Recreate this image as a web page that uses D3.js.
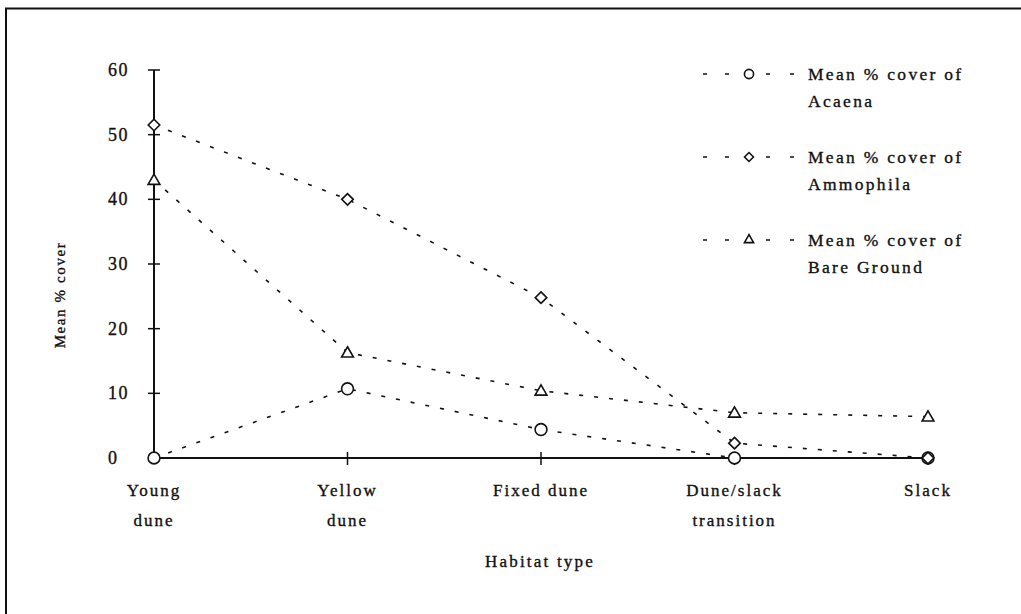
<!DOCTYPE html>
<html><head><meta charset="utf-8">
<script src="https://cdn.jsdelivr.net/npm/d3@7"></script>
<style>body{margin:0;background:#fff}svg{display:block}text{font-family:"Liberation Serif","Times New Roman",serif;fill:#111;stroke:#111;stroke-width:0.35px}</style>
</head><body>
<script>
const categories = [["Young","dune"],["Yellow","dune"],["Fixed dune"],["Dune/slack","transition"],["Slack"]];
const acaena = [0, 10.7, 4.4, 0, 0];
const ammophila = [51.5, 40, 24.8, 2.3, 0];
const bareGround = [43, 16.3, 10.4, 7, 6.4];
const yTicks = [0,10,20,30,40,50,60];
const seriesNames = [["Mean % cover of","Acaena"],["Mean % cover of","Ammophila"],["Mean % cover of","Bare Ground"]];

const W=1021,H=614;
const svg=d3.select("body").append("svg").attr("width",W).attr("height",H);
svg.append("path").attr("d","M6,614 L6,8.5 L1021,8.5").attr("fill","none").attr("stroke","#111").attr("stroke-width",2);

const x=d3.scalePoint().domain(d3.range(categories.length)).range([154,928]);
const y=d3.scaleLinear().domain([0,60]).range([458,70]);

const g=svg.append("g");
g.append("line").attr("x1",154).attr("x2",154).attr("y1",y(60)).attr("y2",y(0)).attr("stroke","#111").attr("stroke-width",2);
g.selectAll(".yt").data(yTicks).enter().append("line").attr("x1",148).attr("x2",160).attr("y1",d=>y(d)).attr("y2",d=>y(d)).attr("stroke","#111").attr("stroke-width",1.5);
g.selectAll(".yl").data(yTicks).enter().append("text").attr("x",108).attr("y",d=>y(d)+6).attr("text-anchor","start").attr("font-size",18).attr("letter-spacing",1.5).text(d=>d);
g.append("line").attr("x1",154).attr("x2",x(4)).attr("y1",y(0)).attr("y2",y(0)).attr("stroke","#111").attr("stroke-width",2);
g.selectAll(".xt").data(d3.range(1,categories.length)).enter().append("line").attr("x1",d=>x(d)).attr("x2",d=>x(d)).attr("y1",y(0)-6).attr("y2",y(0)+7).attr("stroke","#111").attr("stroke-width",1.5);
categories.forEach((c,i)=>{
  c.forEach((t,j)=>{
    g.append("text").attr("x",x(i)).attr("y",y(0)+38+j*30).attr("text-anchor","middle").attr("font-size",17).attr("letter-spacing",2).text(t);
  });
});
g.append("text").attr("x",540).attr("y",567).attr("text-anchor","middle").attr("font-size",17).attr("letter-spacing",2.2).text("Habitat type");
g.append("text").attr("transform","translate(65,295) rotate(-90)").attr("text-anchor","middle").attr("font-size",15).attr("letter-spacing",1.6).text("Mean % cover");

const shapes=[d3.symbolCircle,d3.symbolDiamond2,d3.symbolTriangle2];
const sizes=[110,85,100];
const data=[acaena,ammophila,bareGround];
const line=d3.line().x((d,i)=>x(i)).y(d=>y(d));
data.forEach((s,k)=>{
  svg.append("path").datum(s).attr("d",line).attr("fill","none").attr("stroke","#111").attr("stroke-width",1.6).attr("stroke-dasharray","4,11");
});
data.forEach((s,k)=>{
  svg.selectAll(null).data(s).enter().append("path")
    .attr("d",d3.symbol().type(shapes[k]).size(sizes[k]))
    .attr("transform",(d,i)=>`translate(${x(i)},${y(d)+(k===2?1:0)})`)
    .attr("fill","#fff").attr("stroke","#111").attr("stroke-width",1.6);
});
const legY=[74,157,240];
seriesNames.forEach((nm,k)=>{
  const ly=legY[k];
  svg.append("line").attr("x1",703).attr("x2",730).attr("y1",ly).attr("y2",ly).attr("stroke","#111").attr("stroke-width",1.5).attr("stroke-dasharray","4,18");
  svg.append("line").attr("x1",766).attr("x2",795).attr("y1",ly).attr("y2",ly).attr("stroke","#111").attr("stroke-width",1.5).attr("stroke-dasharray","4,20");
  svg.append("path").attr("d",d3.symbol().type(shapes[k]).size(sizes[k]*0.6)).attr("transform",`translate(749,${ly})`).attr("fill","#fff").attr("stroke","#111").attr("stroke-width",1.6);
  nm.forEach((t,j)=>svg.append("text").attr("x",808).attr("y",ly+6+j*27).attr("font-size",17.5).attr("letter-spacing",2.3).text(t));
});
</script>
</body></html>
